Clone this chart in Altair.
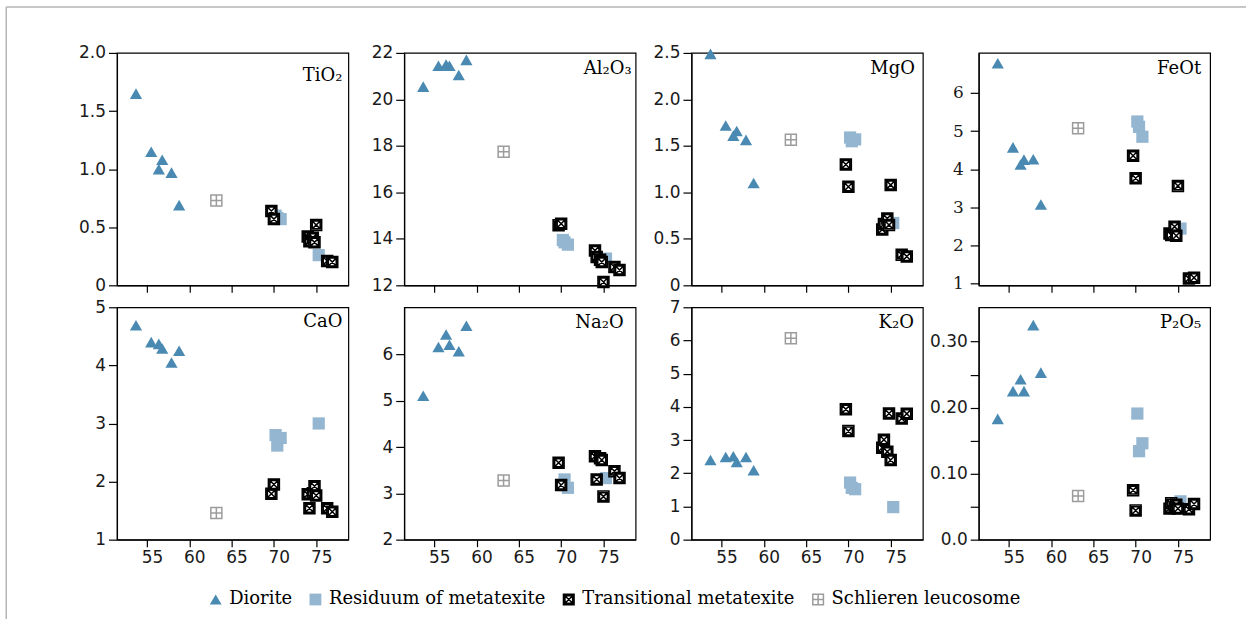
import altair as alt
import pandas as pd

# ---------------- data ----------------
GROUP = [
    "Residuum of metatexite", "Residuum of metatexite", "Residuum of metatexite", "Residuum of metatexite",
    "Diorite", "Diorite", "Diorite", "Diorite", "Diorite", "Diorite",
    "Schlieren leucosome",
    "Transitional metatexite", "Transitional metatexite", "Transitional metatexite",
    "Transitional metatexite", "Transitional metatexite", "Transitional metatexite",
    "Transitional metatexite", "Transitional metatexite", "Transitional metatexite",
]
SIO2 = [70.2, 70.4, 70.8, 75.3,
        53.7, 55.5, 56.4, 56.8, 57.9, 58.8,
        63.2,
        69.7, 70.0, 74.0, 74.2, 74.6, 74.8, 75.0, 76.3, 76.9]
TIO2 = [0.60, 0.58, 0.57, 0.26,
        1.65, 1.15, 1.00, 1.08, 0.97, 0.69,
        0.73,
        0.64, 0.57, 0.42, 0.38, 0.41, 0.37, 0.52, 0.21, 0.20]
AL2O3 = [13.95, 13.85, 13.75, 13.15,
         20.55, 21.45, 21.5, 21.45, 21.05, 21.7,
         17.75,
         14.58, 14.65, 13.5, 13.22, 13.1, 13.0, 12.14, 12.79, 12.66]
MGO = [1.59, 1.55, 1.57, 0.67,
       2.49, 1.72, 1.61, 1.66, 1.565, 1.10,
       1.565,
       1.30, 1.06, 0.60, 0.66, 0.72, 0.65, 1.08, 0.33, 0.31]
FEOT = [5.25, 5.11, 4.85, 2.44,
        6.78, 4.57, 4.12, 4.25, 4.26, 3.07,
        5.07,
        4.35, 3.76, 2.31, 2.27, 2.49, 2.25, 3.56, 1.13, 1.15]
CAO = [2.80, 2.62, 2.75, 3.00,
       4.69, 4.40, 4.37, 4.29, 4.05, 4.25,
       1.46,
       1.79, 1.95, 1.78, 1.54, 1.80, 1.92, 1.76, 1.54, 1.48]
NA2O = [3.18, 3.30, 3.12, 3.33,
        5.11, 6.16, 6.43, 6.21, 6.07, 6.62,
        3.28,
        3.66, 3.18, 3.80, 3.30, 3.76, 3.72, 2.93, 3.48, 3.33]
K2O = [1.72, 1.56, 1.52, 0.98,
       2.40, 2.49, 2.51, 2.34, 2.49, 2.09,
       6.07,
       3.93, 3.27, 2.77, 3.01, 2.65, 3.80, 2.40, 3.65, 3.79]
P2O5 = [0.191, 0.134, 0.146, 0.058,
        0.183, 0.225, 0.243, 0.225, 0.325, 0.253,
        0.066,
        0.075, 0.044, 0.047, 0.055, 0.048, 0.053, 0.047, 0.046, 0.054]

PANEL_VALUES = [TIO2, AL2O3, MGO, FEOT, CAO, NA2O, K2O, P2O5]
PANEL_LABELS = ["TiO₂", "Al₂O₃", "MgO", "FeOt", "CaO", "Na₂O", "K₂O", "P₂O₅"]
Y_DOMAINS = [[0, 2.0], [12, 22], [0, 2.5], [0.95, 7.05], [1, 5], [2, 7.02], [0, 7], [0, 0.352]]
Y_TICKS = [
    [0, 0.5, 1.0, 1.5, 2.0],
    [12, 14, 16, 18, 20, 22],
    [0, 0.5, 1.0, 1.5, 2.0, 2.5],
    [1, 2, 3, 4, 5, 6],
    [1, 2, 3, 4, 5],
    [2, 3, 4, 5, 6],
    [0, 1, 2, 3, 4, 5, 6, 7],
    [0, 0.05, 0.10, 0.15, 0.20, 0.25, 0.30],
]
X_DOMAIN = [51.45, 78.8]
X_TICKS = [55, 60, 65, 70, 75]

CATEGORIES = ["Diorite", "Residuum of metatexite", "Transitional metatexite", "Schlieren leucosome"]

# ---------------- styling ----------------
W, H = 232, 233
TITLE_RIGHT = [6, 4, 8, 9, 6, 12, 9, 9]
TITLE_BASE = [28.5, 21, 21.5, 21.5, 20, 21, 21, 21]

PATH_BOXX = ("M-0.9,-0.9H0.9V0.9H-0.9Z M-0.65,-0.65H0.65V0.65H-0.65Z "
             "M-0.65,-0.65L0.65,0.65 M0.65,-0.65L-0.65,0.65")
PATH_BOXPLUS = "M-0.9,-0.9H0.9V0.9H-0.9Z M0,-0.9V0.9 M-0.9,0H0.9"

SHAPES = ["triangle-up", "square", PATH_BOXX, PATH_BOXPLUS]
FILLS = ["#4a8ab2", "#94b6d0", "white", "white"]
STROKES = ["transparent", "transparent", "black", "#9c9c9c"]

LEGEND = alt.Legend(
    title=None, orient="none", legendX=90, legendY=539, direction="horizontal",
    symbolSize=140, symbolStrokeWidth=1.5, symbolOpacity=1,
    labelFont="DejaVu Serif", labelFontSize=18, labelColor="black", labelLimit=0,
    labelOffset=4.5, columnPadding=14, padding=0,
)

LABEL_EXPR = {
    0: "datum.value == 0 ? '0' : format(datum.value, '.1f')",
    2: "datum.value == 0 ? '0' : format(datum.value, '.1f')",
    7: "round(datum.value * 100) % 10 == 0 ? (datum.value == 0 ? '0.0' : format(datum.value, '.2f')) : ''",
}


def panel(i):
    row = i // 4
    df = pd.DataFrame({
        "SiO2": SIO2,
        "value": PANEL_VALUES[i],
        "group": GROUP,
        "order": list(range(len(SIO2))),
    })
    x_axis = alt.Axis(values=X_TICKS, labels=(row == 1), tickSize=7, labelOffset=5,
                      labelPadding=3, grid=False, title=None)
    y_kw = dict(values=Y_TICKS[i], tickSize=8.5, labelPadding=3, grid=False, title=None)
    if i in LABEL_EXPR:
        y_kw["labelExpr"] = LABEL_EXPR[i]
    if i == 3:
        y_kw["labelFont"] = "DejaVu Serif"
        y_kw["labelPadding"] = 7
    y_axis = alt.Axis(**y_kw)

    pts = alt.Chart(df).mark_point(filled=True, opacity=1, strokeWidth=1.5, size=150).encode(
        x=alt.X("SiO2:Q", scale=alt.Scale(domain=X_DOMAIN, nice=False, zero=False), axis=x_axis),
        y=alt.Y("value:Q", scale=alt.Scale(domain=Y_DOMAINS[i], nice=False, zero=False), axis=y_axis),
        shape=alt.Shape("group:N", scale=alt.Scale(domain=CATEGORIES, range=SHAPES), legend=LEGEND),
        fill=alt.Fill("group:N", scale=alt.Scale(domain=CATEGORIES, range=FILLS), legend=LEGEND),
        stroke=alt.Stroke("group:N", scale=alt.Scale(domain=CATEGORIES, range=STROKES), legend=LEGEND),
        order=alt.Order("order:Q"),
    )
    label = alt.Chart(pd.DataFrame({"label": [PANEL_LABELS[i]]})).mark_text(
        align="right", baseline="alphabetic", font="DejaVu Serif", fontSize=18, color="black"
    ).encode(x=alt.value(W - TITLE_RIGHT[i]), y=alt.value(TITLE_BASE[i]), text="label:N")

    layers = [pts, label]
    if i == 0:
        one = pd.DataFrame({"k": [0]})
        vline = alt.Chart(one).mark_rule(color="#b4b4b4", strokeWidth=1.5).encode(
            x=alt.value(-111), y=alt.value(-46), y2=alt.value(568))
        hline = alt.Chart(one).mark_rule(color="#b4b4b4", strokeWidth=1.5).encode(
            x=alt.value(-111), x2=alt.value(1132), y=alt.value(-46))
        layers = [vline, hline] + layers
    return alt.layer(*layers).properties(width=W, height=H)


chart = alt.concat(
    *[panel(i) for i in range(8)], columns=4, spacing={"row": 22, "column": 56}
).properties(
    bounds="flush",
    background="white",
    padding={"left": 4.25, "top": 4.25, "right": 0, "bottom": 0},
).resolve_scale(
    x="independent", y="independent", shape="shared", fill="shared", stroke="shared"
).configure_view(
    stroke="black", strokeWidth=1.2
).configure_axis(
    labelFont="DejaVu Sans", labelFontSize=17, labelColor="#1a1a1a",
    tickColor="black", domainColor="black", tickWidth=1.2, domainWidth=1.2,
).configure_legend(
    labelFont="DejaVu Serif", labelFontSize=18, labelColor="black", labelLimit=0,
)

chart.save("out.html", embed_options={"renderer": "svg", "actions": False})
